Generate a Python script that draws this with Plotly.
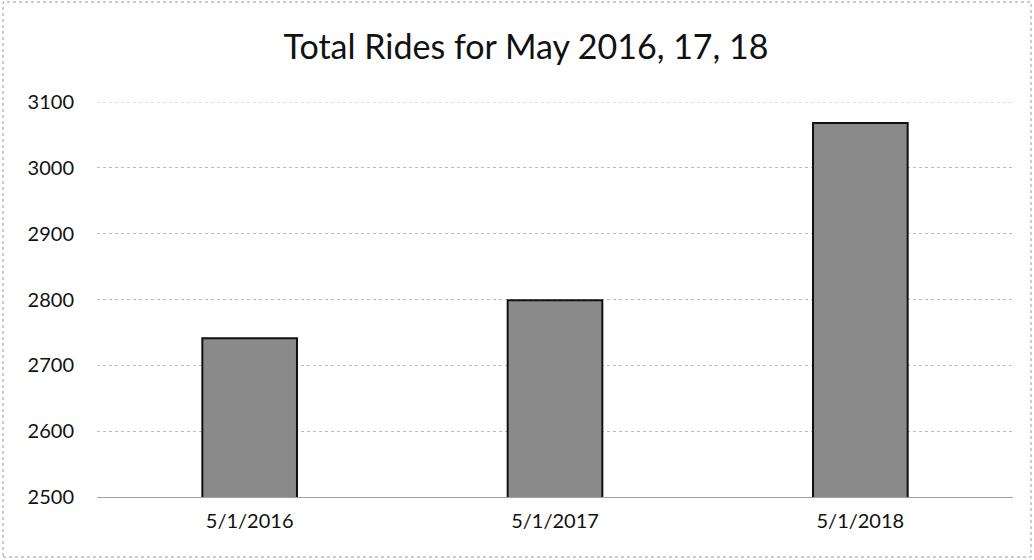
import plotly.graph_objects as go

categories = ["5/1/2016", "5/1/2017", "5/1/2018"]
rides = [2741, 2799, 3068]
y_ticks = [2500, 2600, 2700, 2800, 2900, 3000, 3100]

W, H = 1034, 560
L, R, T, B = 97, 21, 102, 63

fig = go.Figure(go.Bar(
    x=categories, y=rides, width=0.31,
    marker=dict(color="#8a8a8a", line=dict(color="#111111", width=2)),
))

pw, ph = W - L - R, H - T - B
fig.add_shape(type="rect", xref="paper", yref="paper",
              x0=(3 - L) / pw, x1=(W - 3 - L) / pw,
              y0=(H - B - (H - 3)) / ph, y1=(H - B - 2) / ph,
              line=dict(color="#9a9a9a", width=1, dash="dot"), layer="below")
# top gridline sits on the range edge, draw it explicitly
fig.add_shape(type="line", xref="paper", yref="y", x0=0, x1=1,
              y0=y_ticks[-1], y1=y_ticks[-1],
              line=dict(color="#bcbcbc", width=1, dash="dot"), layer="below")

fig.update_layout(
    width=W, height=H,
    margin=dict(l=L, r=R, t=T, b=B),
    paper_bgcolor="white", plot_bgcolor="white",
    font=dict(family="Lato, Open Sans, sans-serif", color="#111111", size=20),
    title=dict(text="Total Rides for May 2016, 17, 18", x=526 / W, xref="container",
               xanchor="center", y=1 - 47 / H, yanchor="middle",
               font=dict(size=34, color="#111111")),
    showlegend=False,
)
fig.update_xaxes(showgrid=False, showline=True, linecolor="#a0a0a0", linewidth=1,
                 ticks="", tickfont=dict(size=20), ticklabelstandoff=6)
fig.update_yaxes(range=[2500, 3100], tickvals=y_ticks, showline=False,
                 gridcolor="#bcbcbc", griddash="dot", gridwidth=1,
                 zeroline=False, ticks="", ticklabelstandoff=22,
                 tickfont=dict(size=20))

fig.write_html("out.html", config={"displayModeBar": False},
               post_script="document.body.style.margin='0';")
